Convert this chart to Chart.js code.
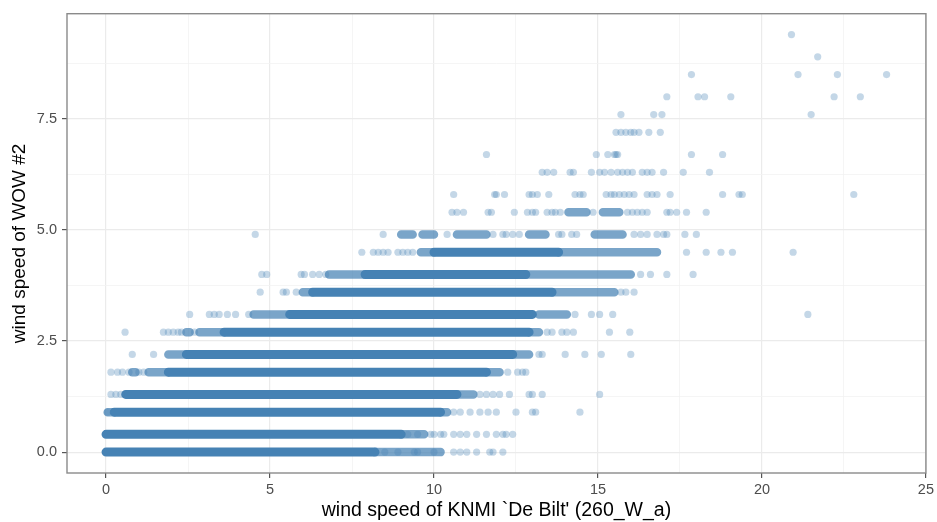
<!DOCTYPE html>
<html>
<head>
<meta charset="utf-8">
<script src="https://cdn.jsdelivr.net/npm/chart.js@4.4.1/dist/chart.umd.min.js"></script>
<style>
  body { margin: 0; background: #ffffff; }
</style>
</head>
<body>
<canvas id="myChart" width="937" height="522"></canvas>
<script>
// WOW #2 reports in 1 mph steps, so every point sits on one of these levels (m/s)
// dense runs: stretches where the points overlap into a solid bar  [y, from x, to x]
const denseRuns = [
    [0.0, 0.0, 8.2],
    [0.4, 0.0, 9.0],
    [0.9, 0.25, 10.2],
    [1.3, 0.6, 10.7],
    [1.8, 1.9, 11.6],
    [2.2, 2.45, 12.4],
    [2.7, 3.6, 12.9],
    [3.1, 5.6, 13.0],
    [3.6, 6.3, 13.6],
    [4.0, 7.9, 12.8],
    [4.5, 10.0, 13.8]
];

// thinner stretches: many points but not fully overlapping
const thinRuns = [
    [0.0, 8.2, 10.2],
    [0.4, 9.0, 9.7],
    [0.9, 0.05, 0.25], [0.9, 10.2, 10.4],
    [1.3, 10.7, 11.2],
    [1.8, 0.8, 0.9], [1.8, 1.3, 1.9], [1.8, 11.6, 12.0],
    [2.2, 1.9, 2.45], [2.2, 12.4, 12.9],
    [2.7, 2.45, 2.55], [2.7, 2.85, 3.6], [2.7, 12.9, 13.2],
    [3.1, 4.5, 5.6], [3.1, 13.2, 14.05],
    [3.6, 6.0, 6.3], [3.6, 13.6, 15.5],
    [4.0, 6.8, 7.9], [4.0, 12.8, 16.0],
    [4.5, 9.6, 10.0], [4.5, 13.8, 16.8],
    [4.9, 9.0, 9.35], [4.9, 9.65, 10.0], [4.9, 10.7, 11.6], [4.9, 12.9, 13.4], [4.9, 14.9, 15.75],
    [5.4, 14.1, 14.65], [5.4, 15.15, 15.65]
];

// single points, per level
const loosePoints = [
    [0.0, [8.5, 8.9, 9.4, 9.5, 10.0, 10.6, 10.8, 11.0, 11.3, 11.7, 11.8, 12.1]],
    [0.4, [9.2, 9.5, 9.9, 10.0, 10.2, 10.3, 10.6, 10.8, 11.0, 11.3, 11.6, 11.9, 12.1, 12.2, 12.4]],
    [0.9, [0.05, 10.6, 10.8, 11.1, 11.4, 11.65, 11.9, 12.5, 13.0, 13.1, 14.45]],
    [1.3, [0.15, 0.3, 0.45, 11.4, 11.6, 11.8, 12.0, 12.3, 12.9, 13.0, 13.3, 15.05]],
    [1.8, [0.15, 0.35, 0.5, 0.7, 1.0, 1.15, 12.25, 12.55, 12.7, 12.8]],
    [2.2, [0.8, 1.45, 13.2, 13.3, 14.0, 14.6, 15.1, 16.0]],
    [2.7, [0.58, 1.75, 1.9, 2.05, 2.2, 2.3, 2.7, 13.45, 13.6, 13.9, 14.05, 14.25, 15.35, 15.97]],
    [3.1, [2.55, 3.15, 3.3, 3.45, 3.7, 3.95, 4.35, 14.3, 14.8, 15.05, 15.45, 21.4]],
    [3.6, [4.7, 5.4, 5.5, 5.8, 15.7, 15.85, 16.1]],
    [4.0, [4.75, 4.9, 5.95, 6.05, 6.3, 6.5, 6.7, 16.3, 16.6, 17.1, 17.9]],
    [4.5, [7.8, 8.15, 8.3, 8.45, 8.6, 8.9, 9.05, 9.2, 9.35, 17.7, 18.3, 18.75, 19.1, 20.95]],
    [4.9, [4.55, 8.45, 10.4, 11.8, 12.1, 12.2, 12.4, 12.6, 13.8, 13.9, 14.2, 14.35, 16.1, 16.3, 16.5, 16.8, 17.0, 17.1, 17.65, 18.0]],
    [5.4, [10.55, 10.7, 10.9, 11.65, 11.75, 12.45, 12.85, 13.0, 13.1, 13.45, 13.6, 13.7, 13.85, 14.85, 15.9, 16.05, 16.2, 16.35, 16.5, 17.1, 17.2, 17.4, 17.7, 18.3]],
    [5.8, [10.6, 11.85, 11.9, 12.15, 12.9, 13.0, 13.15, 13.5, 14.3, 14.45, 14.55, 15.25, 15.4, 15.5, 15.65, 15.8, 15.95, 16.1, 16.5, 16.65, 16.8, 17.2, 18.8, 19.3, 19.4, 22.8]],
    [6.3, [13.3, 13.45, 13.65, 14.15, 14.25, 14.8, 15.05, 15.2, 15.4, 15.6, 15.75, 15.9, 16.05, 16.35, 16.5, 16.65, 17.0, 17.6, 18.4]],
    [6.7, [11.6, 14.95, 15.3, 15.5, 15.55, 15.6, 17.85, 18.8]],
    [7.2, [15.55, 15.7, 15.85, 16.0, 16.1, 16.25, 16.55, 16.9]],
    [7.6, [15.7, 16.7, 16.95, 21.5]],
    [8.0, [17.1, 18.05, 18.25, 19.05, 22.2, 23.0]],
    [8.5, [17.85, 21.1, 22.3, 23.8]],
    [8.9, [21.7]],
    [9.4, [20.9]]
];

const xTicks = [0, 5, 10, 15, 20, 25];
const xTickLabels = ['0', '5', '10', '15', '20', '25'];
const yTicks = [0, 2.5, 5, 7.5];
const yTickLabels = ['0.0', '2.5', '5.0', '7.5'];

const xTitle = "wind speed of KNMI `De Bilt' (260_W_a)";
const yTitle = 'wind speed of WOW #2';

const STEEL = 'rgb(70,130,180)';

// a run becomes two points plus a gap so that the line breaks
function runsToLine(runs) {
    const pts = [];
    runs.forEach(r => {
        pts.push({x: r[1], y: r[0]}, {x: r[2], y: r[0]}, {x: r[2], y: null});
    });
    return pts;
}

const scatterData = [];
loosePoints.forEach(l => l[1].forEach(x => scatterData.push({x: x, y: l[0]})));

// major ticks plus the minor ones half way between
function withMinor(major) {
    const out = [];
    major.forEach((v, i) => {
        out.push(v);
        if (i < major.length - 1) out.push((v + major[i + 1]) / 2);
    });
    return out;
}
const xGrid = withMinor(xTicks);
const yGrid = withMinor(yTicks).concat([8.75]);

const isMajor = (list, v) => list.indexOf(v) >= 0;

const panelBorder = {
    id: 'panelBorder',
    afterDatasetsDraw(chart) {
        const {ctx, chartArea: a} = chart;
        ctx.save();
        ctx.strokeStyle = '#8a8a8a';
        ctx.lineWidth = 1.4;
        ctx.strokeRect(a.left, a.top, a.right - a.left, a.bottom - a.top);
        ctx.restore();
    }
};

const tickFont = {family: 'Liberation Sans', size: 14.5};

const config = {
    type: 'scatter',
    data: {
        datasets: [
            {
                type: 'line',
                data: scatterData,
                showLine: false,
                pointRadius: 3.6,
                pointBackgroundColor: 'rgba(70,130,180,0.32)',
                pointBorderWidth: 0
            },
            {
                type: 'line',
                data: runsToLine(denseRuns),
                borderColor: STEEL,
                borderWidth: 9,
                borderCapStyle: 'round',
                pointRadius: 0,
                spanGaps: false
            },
            {
                type: 'line',
                data: runsToLine(thinRuns),
                borderColor: 'rgba(70,130,180,0.72)',
                borderWidth: 8.5,
                borderCapStyle: 'round',
                pointRadius: 0,
                spanGaps: false
            }
        ]
    },
    options: {
        responsive: false,
        animation: false,
        events: [],
        layout: {padding: {top: 8, right: 10, left: 0, bottom: 0}},
        plugins: {
            legend: {display: false},
            tooltip: {enabled: false}
        },
        scales: {
            x: {
                type: 'linear',
                min: -1.19,
                max: 25,
                afterBuildTicks: axis => { axis.ticks = xGrid.map(v => ({value: v})); },
                afterFit: scale => { scale.height = 49; },
                border: {display: false},
                grid: {
                    color: ctx => isMajor(xTicks, ctx.tick.value) ? '#EBEBEB' : '#F3F3F3',
                    lineWidth: ctx => isMajor(xTicks, ctx.tick.value) ? 1.2 : 0.8,
                    tickColor: ctx => isMajor(xTicks, ctx.tick.value) ? '#555555' : 'rgba(0,0,0,0)',
                    tickWidth: 1.2,
                    tickLength: 5
                },
                ticks: {
                    autoSkip: false,
                    maxRotation: 0,
                    padding: 3,
                    color: '#4D4D4D',
                    font: tickFont,
                    callback: v => isMajor(xTicks, v) ? xTickLabels[xTicks.indexOf(v)] : ''
                },
                title: {
                    display: true,
                    text: xTitle,
                    color: '#000000',
                    font: {family: 'Liberation Sans', size: 19.5},
                    padding: {top: 0, bottom: 0}
                }
            },
            y: {
                type: 'linear',
                min: -0.47,
                max: 9.87,
                afterBuildTicks: axis => { axis.ticks = yGrid.map(v => ({value: v})); },
                afterFit: scale => { scale.width = 67; },
                border: {display: false},
                grid: {
                    color: ctx => isMajor(yTicks, ctx.tick.value) ? '#EBEBEB' : '#F3F3F3',
                    lineWidth: ctx => isMajor(yTicks, ctx.tick.value) ? 1.2 : 0.8,
                    tickColor: ctx => isMajor(yTicks, ctx.tick.value) ? '#555555' : 'rgba(0,0,0,0)',
                    tickWidth: 1.2,
                    tickLength: 5
                },
                ticks: {
                    autoSkip: false,
                    padding: 5,
                    color: '#4D4D4D',
                    font: tickFont,
                    callback: v => isMajor(yTicks, v) ? yTickLabels[yTicks.indexOf(v)] : ''
                },
                title: {
                    display: true,
                    text: yTitle,
                    color: '#000000',
                    font: {family: 'Liberation Sans', size: 19},
                    padding: {top: 8, bottom: 0}
                }
            }
        }
    },
    plugins: [panelBorder]
};

const myChart = new Chart(document.getElementById('myChart'), config);
</script>
</body>
</html>
